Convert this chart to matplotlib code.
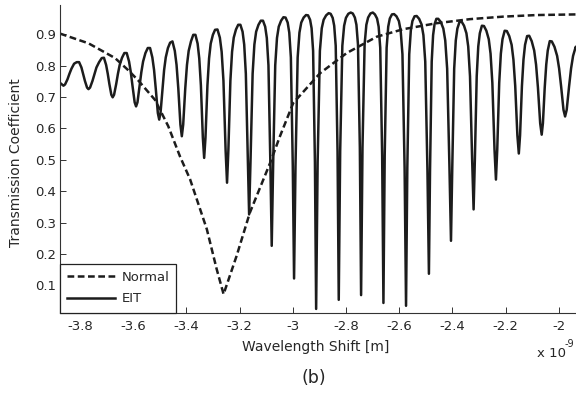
import numpy as np
import matplotlib
matplotlib.use("Agg")
import matplotlib.pyplot as plt

plt.rcParams['font.family'] = 'DejaVu Sans'
plt.rcParams['axes.unicode_minus'] = False

# wavelength shift in units of 1e-9 m
normal_x = [-3.875, -3.768, -3.668, -3.618, -3.580, -3.518, -3.468, -3.424, -3.386,
            -3.323, -3.286, -3.260, -3.211, -3.161, -3.085, -3.048, -2.998, -2.897,
            -2.797, -2.684, -2.584, -2.459, -2.333, -2.208, -2.083, -1.935]
normal_y = [0.902, 0.871, 0.824, 0.785, 0.752, 0.691, 0.607, 0.511, 0.438,
            0.279, 0.152, 0.072, 0.194, 0.332, 0.490, 0.575, 0.681, 0.776,
            0.840, 0.892, 0.916, 0.935, 0.948, 0.956, 0.961, 0.963]

# EIT curve: dips, arch tops and flank values read near each dip
eit_start = (-3.875, 0.745)
eit_end = (-1.935, 0.856)
dip_x = [-3.862, -3.768, -3.677, -3.589, -3.502, -3.417, -3.333, -3.247, -3.164,
         -3.079, -2.995, -2.912, -2.827, -2.743, -2.659, -2.574, -2.488, -2.405,
         -2.320, -2.236, -2.150, -2.064, -1.976]
dip_y = [0.736, 0.725, 0.699, 0.670, 0.628, 0.575, 0.506, 0.427, 0.326,
         0.226, 0.122, 0.025, 0.054, 0.069, 0.044, 0.035, 0.137, 0.242,
         0.342, 0.437, 0.520, 0.580, 0.638]
peak_x = [-3.812, -3.718, -3.633, -3.545, -3.461, -3.374, -3.292, -3.205, -3.120,
          -3.035, -2.950, -2.865, -2.782, -2.699, -2.619, -2.534, -2.453, -2.365,
          -2.281, -2.195, -2.111, -2.026]
peak_y = [0.811, 0.824, 0.840, 0.856, 0.873, 0.898, 0.914, 0.930, 0.943,
          0.954, 0.961, 0.967, 0.969, 0.969, 0.964, 0.958, 0.949, 0.940,
          0.926, 0.910, 0.895, 0.877]
# flank values beside each dip, at 12/30/45/60/80 % of the way to the arch top
flank_a = [0.740, 0.730, 0.707, 0.683, 0.649, 0.612, 0.570, 0.531, 0.496, 0.481, 0.480, 0.492,
           0.528, 0.539, 0.514, 0.474, 0.466, 0.475, 0.498, 0.533, 0.578, 0.616, 0.659]
flank_b = [0.756, 0.751, 0.741, 0.734, 0.726, 0.727, 0.737, 0.752, 0.774, 0.801, 0.826, 0.847,
           0.863, 0.867, 0.857, 0.836, 0.813, 0.790, 0.766, 0.745, 0.735, 0.730, 0.734]
flank_c = [0.774, 0.773, 0.774, 0.779, 0.786, 0.802, 0.823, 0.844, 0.867, 0.888, 0.905, 0.919,
           0.927, 0.930, 0.924, 0.912, 0.897, 0.880, 0.861, 0.838, 0.819, 0.803, 0.791]
flank_d = [0.790, 0.794, 0.802, 0.813, 0.826, 0.847, 0.870, 0.889, 0.908, 0.924, 0.937, 0.946,
           0.952, 0.953, 0.950, 0.942, 0.931, 0.918, 0.903, 0.884, 0.866, 0.848, 0.831]
flank_e = [0.806, 0.811, 0.825, 0.840, 0.856, 0.877, 0.898, 0.915, 0.930, 0.943, 0.953, 0.960,
           0.965, 0.966, 0.963, 0.957, 0.949, 0.939, 0.927, 0.911, 0.894, 0.878, 0.860]
flank_pos = [0.12, 0.3, 0.45, 0.6, 0.8]

xticks = [-3.8, -3.6, -3.4, -3.2, -3.0, -2.8, -2.6, -2.4, -2.2, -2.0]
xtick_labels = ['-3.8', '-3.6', '-3.4', '-3.2', '-3', '-2.8', '-2.6', '-2.4', '-2.2', '-2']
yticks = [0.1, 0.2, 0.3, 0.4, 0.5, 0.6, 0.7, 0.8, 0.9]
ytick_labels = ['0.1', '0.2', '0.3', '0.4', '0.5', '0.6', '0.7', '0.8', '0.9']


def eit_polyline():
    ex, ey = [eit_start[0]], [eit_start[1]]
    n = len(dip_x)
    for i in range(n):
        fl = [flank_a[i], flank_b[i], flank_c[i], flank_d[i], flank_e[i]]
        if i > 0:
            xl = peak_x[i - 1]
            for u, fy in reversed(list(zip(flank_pos, fl))):
                ex.append(dip_x[i] - u * (dip_x[i] - xl))
                ey.append(fy)
        ex.append(dip_x[i])
        ey.append(dip_y[i])
        xr = peak_x[i] if i < len(peak_x) else 2 * dip_x[i] - peak_x[i - 1]
        for u, fy in zip(flank_pos, fl):
            xv = dip_x[i] + u * (xr - dip_x[i])
            if xv < eit_end[0]:
                ex.append(xv)
                ey.append(fy)
        if i < len(peak_x):
            ex.append(peak_x[i])
            ey.append(peak_y[i])
    ex.append(eit_end[0])
    ey.append(eit_end[1])
    return np.array(ex), np.array(ey)


W, H = 576, 394
fig = plt.figure(figsize=(W / 100, H / 100), dpi=100)
ax = fig.add_axes([60 / W, 1 - 312.7 / H, 1 - 60 / W, (312.7 - 5) / H])

line_col = '#1c1c1c'
txt_col = '#262626'

ex, ey = eit_polyline()
ax.plot(normal_x, normal_y, color=line_col, lw=1.8, linestyle=(0, (2.7, 1.4)), label='Normal')
ax.plot(ex, ey, color=line_col, lw=1.8, solid_joinstyle='round', label='EIT')

ax.set_xlim(-3.875, -1.935)
ax.set_ylim(0.013, 0.993)
ax.set_xticks(xticks)
ax.set_xticklabels(xtick_labels)
ax.set_yticks(yticks)
ax.set_yticklabels(ytick_labels)
ax.tick_params(axis='both', direction='in', length=4, width=0.7, colors='#333333',
               labelsize=9.5, labelcolor=txt_col)
ax.tick_params(axis='x', pad=5.5)
ax.tick_params(axis='y', pad=3)
for s in ['top', 'right']:
    ax.spines[s].set_visible(False)
for s in ['left', 'bottom']:
    ax.spines[s].set_linewidth(0.8)
    ax.spines[s].set_color('#333333')

leg = ax.legend(loc='lower left', bbox_to_anchor=(0, 0), borderaxespad=0, fontsize=9.5,
                handlelength=3.6, handletextpad=0.5, borderpad=0.55, labelspacing=0.65,
                fancybox=False, framealpha=1)
leg.get_frame().set_edgecolor('#222222')
leg.get_frame().set_linewidth(0.9)
for t in leg.get_texts():
    t.set_color(txt_col)

fig.text(16.5 / W, 1 - 163 / H, 'Transmission Coefficient', rotation=90, ha='center',
         va='center', fontsize=10, color=txt_col)
fig.text(316 / W, 1 - 346.5 / H, 'Wavelength Shift [m]', ha='center', va='center',
         fontsize=10, color=txt_col)
fig.text(536.7 / W, 1 - 353.3 / H, 'x 10', ha='left', va='center', fontsize=9.5, color=txt_col)
fig.text(565 / W, 1 - 344 / H, '-9', ha='left', va='center', fontsize=7, color=txt_col)
fig.text(314 / W, 1 - 378.3 / H, '(b)', ha='center', va='center', fontsize=12.5, color=txt_col)

fig.savefig('out.png', dpi=100)
